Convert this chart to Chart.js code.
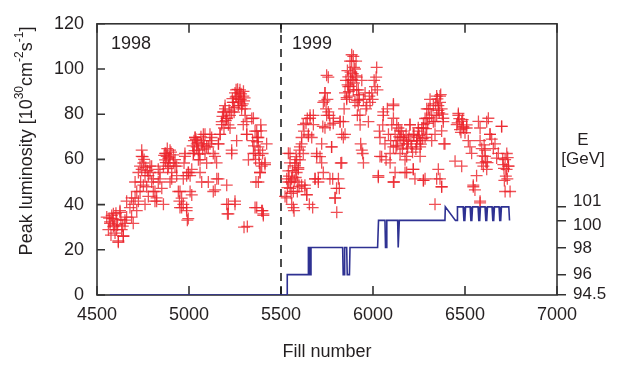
<!DOCTYPE html>
<html>
<head>
<meta charset="utf-8">
<script src="https://cdn.jsdelivr.net/npm/chart.js@4"></script>
<style>
  body { margin: 0; background: #fff; }
  canvas { display: block; }
</style>
</head>
<body>
<canvas id="lumiChart" width="619" height="365"></canvas>
<script>
// peak luminosity per fill, [fill number, luminosity in 1e30 cm^-2 s^-1]
const lumi1998 = [
  [4553,34.5],[4562,28.9],[4571,32.4],[4571,31.7],[4580,35.2],[4589,30.3],[4589,35.9],[4598,27.4],
  [4607,33.1],[4607,28.9],[4616,23.9],[4616,23.3],[4625,36.6],[4625,37.3],[4634,28.9],[4643,26.0],
  [4643,26.1],[4652,31.7],[4652,33.1],[4661,34.5],[4661,41.5],[4679,38.7],[4688,34.5],[4688,43.0],
  [4697,31.7],[4698,40.1],[4707,42.9],[4707,50.0],[4716,37.3],[4716,45.8],[4725,41.5],[4725,54.2],
  [4734,45.8],[4734,57.0],[4737,50.0],[4743,55.6],[4743,64.1],[4743,61.3],[4748,61.2],[4752,58.4],
  [4752,48.6],[4761,52.8],[4761,40.1],[4770,47.9],[4779,43.6],[4779,52.8],[4788,54.2],[4788,57.0],
  [4797,57.0],[4797,50.0],[4806,51.4],[4806,45.8],[4815,45.8],[4815,41.5],[4824,41.5],[4824,43.0],
  [4833,50.0],[4833,55.6],[4842,54.2],[4842,51.4],[4852,47.2],[4861,57.0],[4861,40.1],[4870,59.8],
  [4870,62.7],[4875,62.6],[4879,61.3],[4882,64.8],[4888,60.5],[4888,57.0],[4897,58.4],[4897,50.0],
  [4897,64.1],[4906,54.2],[4906,51.4],[4915,62.0],[4915,58.5],[4924,57.0],[4924,59.9],[4933,52.8],
  [4933,57.0],[4942,45.8],[4948,41.5],[4951,38.7],[4951,45.8],[4960,42.9],[4960,38.7],[4969,51.4],
  [4969,40.1],[4973,58.4],[4978,62.6],[4978,61.3],[4987,37.3],[4987,52.8],[4987,38.7],[4991,33.1],
  [4996,54.2],[4996,33.8],[4997,54.2],[5006,52.8],[5006,45.8],[5015,44.3],[5015,55.6],[5024,62.6],
  [5024,62.7],[5027,68.3],[5033,69.7],[5033,69.7],[5042,65.5],[5042,66.9],[5051,59.8],[5051,64.1],
  [5060,54.2],[5060,59.9],[5069,66.9],[5069,50.0],[5078,71.1],[5078,68.3],[5087,62.6],[5087,71.1],
  [5096,58.4],[5096,65.5],[5105,65.5],[5105,50.0],[5114,71.1],[5114,66.9],[5123,68.3],[5123,69.7],
  [5132,62.6],[5132,45.8],[5141,61.3],[5142,46.5],[5150,58.5],[5151,51.4],[5160,66.9],[5160,51.4],
  [5160,66.9],[5169,71.1],[5169,71.1],[5178,76.7],[5178,75.4],[5187,80.9],[5187,81.0],[5190,73.9],
  [5196,82.4],[5196,83.8],[5205,78.1],[5205,78.2],[5205,40.1],[5205,48.6],[5209,35.9],[5214,75.3],
  [5214,40.1],[5214,35.9],[5223,79.5],[5223,73.9],[5232,62.6],[5232,81.0],[5232,64.1],[5238,85.2],
  [5241,85.2],[5245,80.9],[5250,40.1],[5250,41.5],[5250,89.4],[5256,90.8],[5259,88.0],[5259,68.3],
  [5268,83.8],[5268,86.6],[5274,89.4],[5277,90.8],[5281,86.6],[5286,82.4],[5286,83.8],[5295,88.0],
  [5295,75.4],[5296,90.1],[5299,85.9],[5299,30.0],[5305,79.5],[5305,82.4],[5314,76.7],[5314,71.1],
  [5314,71.1],[5317,30.3],[5323,59.8],[5341,78.1],[5346,68.3],[5350,62.6],[5350,78.2],[5359,72.5],
  [5359,38.7],[5359,62.7],[5364,50.0],[5368,38.7],[5368,72.5],[5372,69.7],[5377,65.5],[5377,69.7],
  [5377,50.0],[5382,58.4],[5386,54.2],[5386,64.1],[5386,54.2],[5390,75.3],[5395,37.3],[5395,57.0],
  [5399,37.3],[5400,62.6],[5404,35.9],[5404,35.2],[5413,57.7],[5413,58.5],[5422,66.9],
  [4566,34.0],[4576,26.5],[4585,33.8],[4594,30.9],[4603,36.2],[4612,31.0],[4630,33.5],[4640,30.5],
  [4756,60.0],[4765,56.4],[4774,55.0],[4865,61.8],[4874,58.6],[4884,55.9],[4893,61.0],[4902,63.2],
  [5020,66.0],[5030,63.9],[5038,68.9],[5047,67.5],[5057,62.3],[5065,70.0],[5074,64.6],[5083,66.2],
  [5182,79.0],[5200,77.2],[5218,81.8],[5236,86.9],[5248,83.0],[5254,87.6],[5264,91.0],[5272,85.4],
  [5283,89.0],[5292,84.6],[5302,87.2],[5353,66.0],[5362,60.0],[5370,67.8],[5380,61.8],[5392,72.6]
];

const lumi1999 = [
  [5522,43.6],[5531,51.4],[5531,43.0],[5540,54.9],[5540,62.7],[5540,50.0],[5549,62.6],[5549,58.5],
  [5549,47.2],[5553,50.0],[5558,40.1],[5558,51.4],[5567,38.7],[5567,45.8],[5571,37.3],[5576,58.4],
  [5576,57.1],[5582,61.2],[5585,54.2],[5585,59.9],[5589,45.8],[5594,56.3],[5594,55.6],[5600,64.1],
  [5603,59.8],[5603,65.5],[5612,48.6],[5612,66.9],[5612,69.7],[5621,62.6],[5621,75.4],[5625,72.5],
  [5630,47.2],[5630,48.6],[5636,76.0],[5640,44.3],[5640,44.4],[5643,78.1],[5649,71.1],[5649,70.4],
  [5654,40.1],[5658,79.5],[5658,78.2],[5667,69.7],[5672,38.7],[5676,79.5],[5676,75.4],[5685,51.4],
  [5685,51.4],[5694,62.6],[5694,61.3],[5703,51.4],[5703,50.0],[5712,61.2],[5721,66.9],[5721,58.5],
  [5727,74.6],[5730,54.2],[5730,85.2],[5736,85.9],[5739,89.4],[5739,89.4],[5739,74.0],[5745,82.4],
  [5748,79.5],[5748,97.2],[5752,86.6],[5757,96.4],[5757,81.0],[5763,79.5],[5766,75.3],[5766,51.4],
  [5775,65.5],[5775,65.5],[5781,51.4],[5784,76.0],[5785,78.2],[5794,42.9],[5794,43.0],[5802,47.2],
  [5803,36.6],[5812,51.4],[5817,47.2],[5821,76.7],[5821,76.8],[5825,58.4],[5830,71.1],[5830,58.5],
  [5839,76.7],[5839,69.7],[5843,82.4],[5848,89.4],[5848,71.1],[5853,95.0],[5857,86.6],[5857,87.3],
  [5861,99.3],[5866,92.2],[5866,96.5],[5872,88.0],[5875,103.5],[5875,92.3],[5879,95.0],[5884,106.3],
  [5884,103.5],[5890,97.9],[5893,90.8],[5893,105.6],[5897,100.7],[5902,85.2],[5902,100.0],[5908,103.5],
  [5911,96.4],[5911,90.8],[5915,79.5],[5920,90.8],[5920,83.8],[5926,86.6],[5929,79.6],[5930,75.3],
  [5933,66.9],[5939,95.0],[5939,64.1],[5944,62.6],[5948,86.6],[5948,58.5],[5957,89.4],[5962,82.4],
  [5966,83.8],[5975,76.7],[5980,88.0],[5984,85.2],[5993,89.4],[5998,86.6],[6006,95.0],[6011,92.2],
  [6017,96.4],[6020,100.7],[6024,90.8],[6029,52.1],[6029,52.8],[6035,72.5],[6038,69.7],[6038,61.3],
  [6047,61.2],[6053,75.3],[6056,79.5],[6056,81.0],[6065,66.9],[6071,59.8],[6078,82.4],[6084,71.1],
  [6093,62.6],[6093,58.5],[6096,68.3],[6102,75.3],[6111,83.8],[6111,84.5],[6111,78.2],[6111,65.5],
  [6111,50.0],[6114,50.0],[6120,71.1],[6120,54.2],[6125,65.5],[6129,75.4],[6132,68.3],[6138,73.9],
  [6147,62.6],[6147,72.6],[6151,69.7],[6156,72.5],[6165,66.9],[6165,69.7],[6174,59.8],[6174,54.2],
  [6180,71.1],[6183,54.2],[6183,66.9],[6183,61.3],[6192,68.3],[6201,75.3],[6201,75.4],[6210,65.5],
  [6219,55.6],[6219,71.1],[6219,55.6],[6223,71.1],[6228,51.4],[6237,66.9],[6237,68.3],[6246,74.0],
  [6247,72.5],[6256,68.3],[6256,65.5],[6256,61.3],[6265,73.9],[6274,50.7],[6274,75.4],[6274,73.9],
  [6274,50.7],[6283,78.1],[6283,69.7],[6283,51.4],[6292,82.4],[6292,78.2],[6292,71.1],[6301,82.4],
  [6310,86.6],[6310,82.4],[6319,79.6],[6319,68.3],[6328,83.8],[6328,76.7],[6337,76.8],[6337,71.1],
  [6337,40.1],[6346,88.0],[6346,79.5],[6346,51.4],[6355,81.7],[6355,83.8],[6355,55.6],[6364,85.2],
  [6364,88.0],[6364,51.4],[6368,88.7],[6373,72.6],[6373,82.4],[6373,47.9],[6373,47.9],[6382,78.2],
  [6382,76.7],[6386,66.9],[6391,66.9],[6446,59.2],[6455,75.4],[6464,80.3],[6464,79.5],[6473,73.2],
  [6482,76.8],[6482,57.0],[6491,74.6],[6491,73.9],[6500,71.8],[6509,73.9],[6509,75.3],[6518,68.3],
  [6527,65.5],[6536,62.7],[6545,48.6],[6545,47.9],[6554,46.5],[6563,52.8],[6573,76.8],[6582,73.9],
  [6582,41.5],[6582,68.3],[6582,40.8],[6591,64.8],[6591,58.5],[6600,57.0],[6609,61.3],[6609,64.1],
  [6618,55.6],[6618,76.7],[6627,78.2],[6636,71.1],[6636,71.1],[6645,69.0],[6654,64.8],[6663,66.9],
  [6672,60.6],[6681,62.7],[6699,74.6],[6699,74.6],[6708,57.7],[6714,50.7],[6718,59.9],[6718,45.8],
  [6726,55.6],[6727,62.6],[6730,51.4],[6736,57.0],[6736,57.0],[6745,45.8],
  [5535,47.5],[5544,52.6],[5555,45.0],[5562,55.0],[5572,50.8],[5580,52.0],[5591,50.0],[5598,47.9],
  [5862,93.0],[5869,90.0],[5878,98.6],[5887,95.4],[5896,93.8],[5905,97.0],[5914,86.0],[5923,88.6],
  [6130,66.2],[6142,70.0],[6160,64.6],[6170,68.6],[6188,65.0],[6196,70.4],[6206,68.0],[6215,63.2],
  [6233,64.6],[6242,69.8],[6251,70.6],[6260,66.8],[6270,69.2],[6288,73.6],[6297,76.0],[6306,78.4],
  [6340,84.6],[6350,86.8],[6360,80.6],[6377,80.0],[6460,76.2],[6469,78.0],[6478,72.0],[6487,77.6],
  [6596,61.6],[6604,66.4],[6613,59.0],[6622,58.6],[6705,60.2],[6712,56.0],[6722,52.6],[6732,60.8]
];

// beam energy in GeV against fill number (right axis)
const energyFills = [4570, 5534, 5534, 5648, 5649, 5655, 5657, 5661, 5663, 5835, 5838, 5843, 5846, 5857, 5860, 5872, 5875,
  6025, 6030, 6065, 6068, 6072, 6075, 6134, 6137, 6140, 6143, 6391, 6393, 6448, 6457, 6459,
  6490, 6494, 6499, 6503, 6528, 6532, 6537, 6541, 6571, 6575, 6580, 6584, 6609, 6613, 6618, 6622,
  6647, 6651, 6656, 6660, 6685, 6689, 6694, 6698, 6738, 6742];
const energyGeV = [94.5, 94.5, 96, 96, 98, 98, 96, 96, 98, 98, 96, 96, 98, 98, 96, 96, 98,
  98, 100, 100, 98, 98, 100, 100, 98, 98, 100, 100, 101, 100, 100, 101,
  101, 100, 100, 101, 101, 100, 100, 101, 101, 100, 100, 101, 101, 100, 100, 101,
  101, 100, 100, 101, 101, 100, 100, 101, 101, 100];

const xTicks = [4500, 5000, 5500, 6000, 6500, 7000];
const yTicks = [0, 20, 40, 60, 80, 100, 120];
const energyTicks = [94.5, 96, 98, 100, 101];
const yearBoundary = 5500;

const FONT = '"Liberation Sans", Arial, Helvetica, sans-serif';
const INK = '#231f20';
// the labels of 100 and 101 are spread apart so they don't collide
const energyLabelNudge = { 101: -6, 100: 5, 98: 1, 96: 0, 94.5: -1 };

const framePlugin = {
  id: 'frame',
  beforeDatasetsDraw(chart) {
    const { ctx, chartArea: a, scales: { x, y } } = chart;
    ctx.save();
    ctx.strokeStyle = '#333';
    ctx.lineWidth = 1.6;
    ctx.strokeRect(a.left, a.top, a.right - a.left, a.bottom - a.top);
    ctx.beginPath();
    xTicks.forEach(v => {
      const px = x.getPixelForValue(v);
      ctx.moveTo(px, a.bottom); ctx.lineTo(px, a.bottom - 9);
      ctx.moveTo(px, a.top); ctx.lineTo(px, a.top + 9);
    });
    yTicks.forEach(v => {
      const py = y.getPixelForValue(v);
      ctx.moveTo(a.left, py); ctx.lineTo(a.left + 8, py);
    });
    ctx.stroke();
    ctx.restore();
  },
  afterDraw(chart) {
    const { ctx, chartArea: a, scales: { x, y, y2 } } = chart;
    ctx.save();
    ctx.fillStyle = INK;
    ctx.textBaseline = 'middle';
    ctx.textAlign = 'center';
    ctx.font = '18px ' + FONT;
    ctx.fillText('1998', x.getPixelForValue(4685), y.getPixelForValue(111));
    ctx.fillText('1999', x.getPixelForValue(5668), y.getPixelForValue(111));
    ctx.fillText('Fill number', (a.left + a.right) / 2, 352);
    ctx.font = '17px ' + FONT;
    ctx.fillText('E', 583, 140);
    ctx.fillText('[GeV]', 583, 159);

    ctx.textAlign = 'left';
    energyTicks.forEach(v => {
      ctx.fillText(String(v), a.right + 16, y2.getPixelForValue(v) + energyLabelNudge[v]);
    });

    // rotated y title with superscripts
    const parts = [
      ['Peak luminosity [10', false], ['30', true], ['cm', false], ['-2', true],
      ['s', false], ['-1', true], [']', false]
    ];
    const big = '18px ' + FONT, small = '12px ' + FONT;
    let total = 0;
    parts.forEach(([t, sup]) => { ctx.font = sup ? small : big; total += ctx.measureText(t).width; });
    ctx.translate(27, 141);
    ctx.rotate(-Math.PI / 2);
    let cx = -total / 2;
    parts.forEach(([t, sup]) => {
      ctx.font = sup ? small : big;
      ctx.fillText(t, cx, sup ? -7 : 0);
      cx += ctx.measureText(t).width;
    });
    ctx.restore();
  }
};

const scatterPoints = lumi1998.concat(lumi1999).map(p => ({ x: p[0], y: p[1] }));
const energyPoints = energyFills.map((f, i) => ({ x: f, y: energyGeV[i] }));

new Chart(document.getElementById('lumiChart'), {
  type: 'scatter',
  data: {
    datasets: [
      {
        data: energyPoints,
        yAxisID: 'y2',
        showLine: true,
        borderColor: '#2e3192',
        borderWidth: 1.6,
        pointRadius: 0,
        tension: 0
      },
      {
        data: scatterPoints,
        yAxisID: 'y',
        pointStyle: 'cross',
        pointRadius: 6,
        borderWidth: 1.3,
        borderColor: 'rgba(235, 35, 42, 0.8)',
        backgroundColor: 'rgba(235, 35, 42, 0.8)'
      },
      {
        data: [{ x: yearBoundary, y: 0 }, { x: yearBoundary, y: 120 }],
        yAxisID: 'y',
        showLine: true,
        borderColor: '#111',
        borderWidth: 1.5,
        borderDash: [8, 6],
        pointRadius: 0
      }
    ]
  },
  options: {
    responsive: false,
    animation: false,
    layout: { padding: { top: 11, left: 0, right: 0, bottom: 0 } },
    plugins: {
      legend: { display: false },
      tooltip: { enabled: false }
    },
    scales: {
      x: {
        type: 'linear',
        min: 4500,
        max: 7000,
        afterBuildTicks(s) { s.ticks = xTicks.map(v => ({ value: v })); },
        ticks: { color: INK, font: { size: 18, family: FONT }, padding: 9, maxRotation: 0, callback: v => String(v) },
        grid: { display: false, drawTicks: false },
        border: { display: false },
        afterFit(s) { s.height = 70; }
      },
      y: {
        min: 0,
        max: 120,
        afterBuildTicks(s) { s.ticks = yTicks.map(v => ({ value: v })); },
        ticks: { color: INK, font: { size: 18, family: FONT }, padding: 13, callback: v => String(v) },
        grid: { display: false, drawTicks: false },
        border: { display: false },
        afterFit(s) { s.width = 97; }
      },
      y2: {
        position: 'right',
        min: 94.5,
        max: 114.5,
        afterBuildTicks(s) { s.ticks = energyTicks.map(v => ({ value: v })); },
        ticks: { display: false },
        grid: { display: true, drawOnChartArea: false, drawTicks: true, tickLength: 9, color: '#333', lineWidth: 1.5 },
        border: { display: false },
        afterFit(s) { s.width = 62; }
      }
    }
  },
  plugins: [framePlugin]
});
</script>
</body>
</html>
